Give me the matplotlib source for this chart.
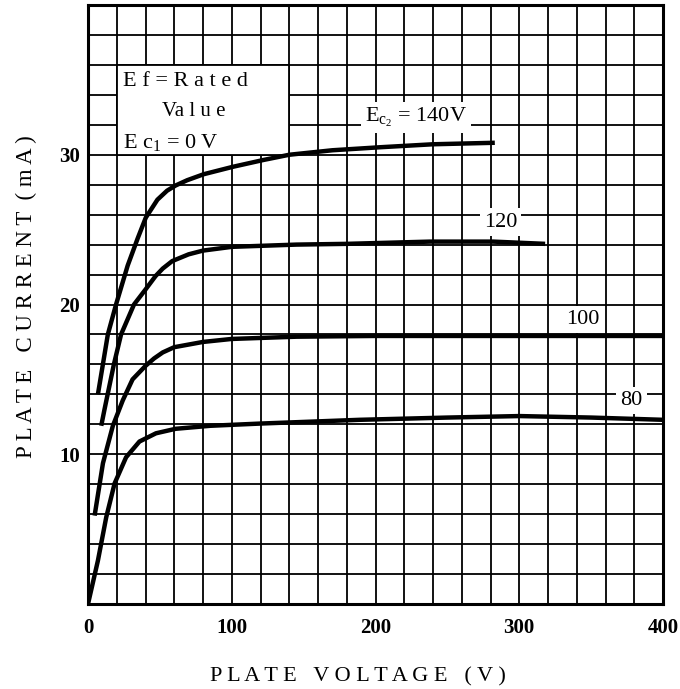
import matplotlib
matplotlib.use("Agg")
import matplotlib.pyplot as plt
from matplotlib.patches import Rectangle
import numpy as np

# plate voltage (V) and plate current (mA)
v_140 = [6.9, 13.8, 19.5, 27.6, 34.5, 40.2, 48.3, 55, 61, 69, 80.5, 101, 122, 140, 170, 203, 240, 283]
i_140 = [14.0, 18.0, 20.0, 22.6, 24.4, 25.8, 27.0, 27.6, 27.95, 28.3, 28.7, 29.2, 29.65, 30.0, 30.3, 30.5, 30.7, 30.8]

v_120 = [9.2, 11.5, 18, 23, 32, 40, 47, 52, 58.6, 70, 80, 100, 145, 180, 238, 282, 318]
i_120 = [11.9, 13.0, 16.0, 18.0, 20.0, 21.0, 21.9, 22.4, 22.9, 23.35, 23.6, 23.85, 24.0, 24.05, 24.2, 24.2, 24.05]

v_100 = [4.6, 10.4, 17.3, 24.2, 31, 40, 46, 52, 60, 80, 100, 145, 200, 280, 340, 400]
i_100 = [5.9, 9.4, 11.9, 13.6, 15.0, 15.9, 16.4, 16.8, 17.15, 17.5, 17.7, 17.85, 17.9, 17.9, 17.9, 17.9]

v_80 = [0, 6.9, 12.7, 18.5, 26.5, 35.8, 47.3, 61, 85, 120, 189, 250, 300, 350, 400]
i_80 = [0, 2.9, 5.8, 8.05, 9.8, 10.85, 11.4, 11.7, 11.9, 12.05, 12.3, 12.45, 12.55, 12.45, 12.3]

x_ticks = [0, 100, 200, 300, 400]
y_ticks = [10, 20, 30]
curve_labels = ["120", "100", "80"]

plt.rcParams["font.family"] = ["Liberation Serif", "DejaVu Serif"]
plt.rcParams["mathtext.fontset"] = "custom"
plt.rcParams["mathtext.rm"] = "Liberation Serif"
plt.rcParams["mathtext.it"] = "Liberation Serif"

fig = plt.figure(figsize=(6.8, 6.89), dpi=100)
ax = fig.add_axes([88 / 680, 85 / 689, 575 / 680, 599 / 689])

ax.set_xlim(0, 400)
ax.set_ylim(0, 40)
ax.set_xticks(x_ticks)
ax.set_yticks(y_ticks)
ax.set_xticks(np.arange(0, 401, 20), minor=True)
ax.set_yticks(np.arange(0, 41, 2), minor=True)
ax.grid(which="both", color="black", linewidth=1.3)
ax.set_axisbelow(True)
ax.tick_params(which="both", length=0)
ax.tick_params(axis="x", pad=10, labelsize=15)
ax.tick_params(axis="y", pad=6, labelsize=15)
for lab in ax.get_xticklabels() + ax.get_yticklabels():
    lab.set_fontweight("bold")
for sp in ax.spines.values():
    sp.set_linewidth(2.2)

# white box for the conditions note
ax.add_patch(Rectangle((20, 30), 120, 6, facecolor="white", edgecolor="black",
                       linewidth=1.3, zorder=1))

for v, i in [(v_140, i_140), (v_120, i_120), (v_100, i_100), (v_80, i_80)]:
    ax.plot(v, i, color="black", linewidth=3.2, solid_capstyle="butt",
            solid_joinstyle="round", zorder=2)

ax.text(24, 34.9, "E f = R a t e d", fontsize=16, va="center", ha="left", zorder=3)
ax.text(51.5, 32.9, "Va l u e", fontsize=15, va="center", ha="left", zorder=3)
ax.text(24, 30.8, r"E c$_{1}$ = 0 V", fontsize=16, va="center", ha="left", zorder=3)

wbox = dict(facecolor="white", edgecolor="none", pad=3)
ax.text(228, 32.5, r"E$_{c_2}$ = 140V", fontsize=16, ha="center", va="center",
        bbox=wbox, zorder=3)
ax.text(287, 25.5, curve_labels[0], fontsize=16, ha="center", va="center", bbox=wbox, zorder=3)
ax.text(344, 19.0, curve_labels[1], fontsize=16, ha="center", va="center", bbox=wbox, zorder=3)
ax.text(378, 13.6, curve_labels[2], fontsize=16, ha="center", va="center", bbox=wbox, zorder=3)

fig.text(358 / 680, 1 - 677 / 689, "P L A T E   V O L T A G E   ( V )",
         fontsize=16, ha="center", va="center")
fig.text(26 / 680, 1 - 297 / 689, "P L A T E   C U R R E N T  ( m A )",
         fontsize=16.5, ha="center", va="center", rotation=90)

fig.savefig("out.png", dpi=100)
